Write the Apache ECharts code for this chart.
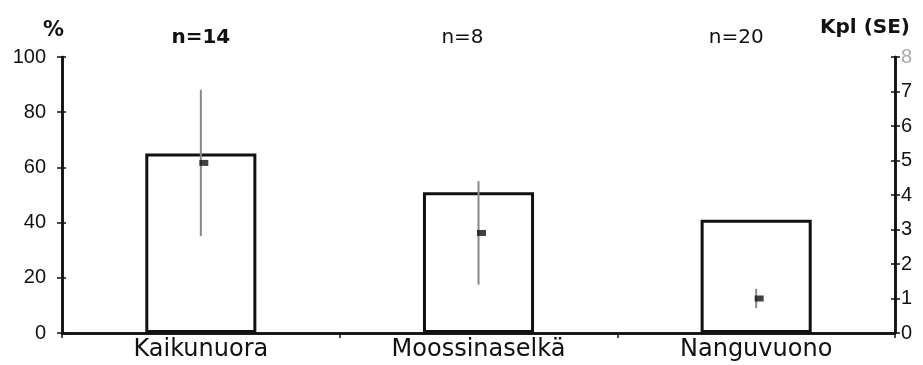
<!DOCTYPE html>
<html><head><meta charset="utf-8">
<script src="https://cdn.jsdelivr.net/npm/echarts@6/dist/echarts.min.js"></script>
<style>html,body{margin:0;padding:0;background:#fff}#c{width:923px;height:365px}</style>
</head><body><div id="c"></div>
<script>
const categories = ['Kaikunuora', 'Moossinaselkä', 'Nanguvuono'];
const nLabels = ['n=14', 'n=8', 'n=20'];
const percentValues = [65, 51, 41];
const countMean = [4.93, 2.9, 1.0];
const countSE = [2.12, 1.5, 0.28];
const leftTicks = [0, 20, 40, 60, 80, 100];
const rightTicks = [0, 1, 2, 3, 4, 5, 6, 7, 8];

const FONT = 'DejaVu Sans';
const TFONT = 'Liberation Sans';
const INK = '#111';
const chart = echarts.init(document.getElementById('c'), null, {renderer: 'canvas'});

const errData = categories.map((c, i) => [i, countMean[i] - countSE[i], countMean[i] + countSE[i]]);
const meanData = categories.map((c, i) => [i, countMean[i]]);

const yBase = {
  type: 'value', splitLine: {show: false},
  axisLine: {show: true, lineStyle: {color: INK, width: 2.5}},
  axisTick: {show: true, length: 5, lineStyle: {color: INK, width: 1.5}},
};

chart.setOption({
  animation: false,
  backgroundColor: '#fff',
  textStyle: {fontFamily: FONT},
  title: [
    {text: '%', left: 38, top: 15, textStyle: {fontFamily: FONT, fontSize: 21, fontWeight: 'bold', color: INK}},
    {text: 'Kpl (SE)', left: 815, top: 13, textStyle: {fontFamily: FONT, fontSize: 20, fontWeight: 'bold', color: INK}}
  ],
  grid: {left: 62, right: 28, top: 57, bottom: 32},
  xAxis: [
    {type: 'category', data: categories, position: 'bottom',
     axisLine: {lineStyle: {color: INK, width: 2.5}},
     axisTick: {show: true, length: 5, alignWithLabel: false, lineStyle: {color: INK, width: 1.5}},
     axisLabel: {fontFamily: FONT, fontSize: 24, color: INK, margin: 5}},
    {type: 'category', data: nLabels, position: 'top',
     axisLine: {lineStyle: {color: INK, width: 2.5}},
     axisTick: {show: false},
     axisLabel: {fontFamily: FONT, color: INK, margin: 9,
       formatter: (v, i) => ['{a|' + v + '}', '{b|' + v + '}', '{c|' + v + '}'][i],
       rich: {
         a: {fontFamily: FONT, fontSize: 20, fontWeight: 'bold', color: INK},
         b: {fontFamily: FONT, fontSize: 20, color: INK, padding: [0, 32, 0, 0]},
         c: {fontFamily: FONT, fontSize: 20, color: INK, padding: [0, 40, 0, 0]}
       }}}
  ],
  yAxis: [
    Object.assign({}, yBase, {position: 'left', min: leftTicks[0], max: leftTicks[leftTicks.length - 1], interval: 20,
      axisLabel: {fontFamily: TFONT, fontSize: 20, color: INK, margin: 16}}),
    Object.assign({}, yBase, {position: 'right', min: rightTicks[0], max: rightTicks[rightTicks.length - 1], interval: 1,
      axisLabel: {fontFamily: TFONT, fontSize: 20, color: INK, margin: 6,
        formatter: v => v === 8 ? '{g|8}' : String(v), rich: {g: {fontFamily: TFONT, fontSize: 20, color: '#aaa'}}}}),
    Object.assign({}, yBase, {position: 'left', min: 0, max: 100, interval: 20, axisLabel: {show: false},
      axisTick: {show: true, inside: true, length: 4, lineStyle: {color: INK, width: 1.5}}}),
    Object.assign({}, yBase, {position: 'right', min: 0, max: 8, interval: 1, axisLabel: {show: false},
      axisTick: {show: true, inside: true, length: 4, lineStyle: {color: INK, width: 1.5}}})
  ],
  series: [
    {type: 'bar', data: percentValues, xAxisIndex: 0, yAxisIndex: 0, barWidth: '40%',
     itemStyle: {color: '#fff', borderColor: INK, borderWidth: 3}, z: 2},
    {type: 'custom', xAxisIndex: 0, yAxisIndex: 1, data: errData, z: 5,
     renderItem: function (params, api) {
       const lo = api.coord([api.value(0), api.value(1)]);
       const hi = api.coord([api.value(0), api.value(2)]);
       return {type: 'line', shape: {x1: lo[0], y1: lo[1], x2: hi[0], y2: hi[1]},
         style: {stroke: '#888', lineWidth: 2}};
     }},
    {type: 'scatter', xAxisIndex: 0, yAxisIndex: 1, data: meanData, symbol: 'rect',
     symbolSize: [9, 6], symbolOffset: [3, 0], itemStyle: {color: INK}, z: 6}
  ]
});
</script></body></html>
